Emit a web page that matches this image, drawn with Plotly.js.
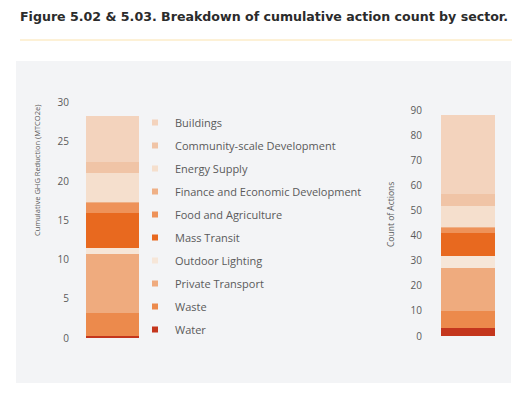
<!DOCTYPE html>
<html>
<head>
<meta charset="utf-8">
<script src="https://cdn.plot.ly/plotly-3.0.1.min.js"></script>
<style>html,body{margin:0;padding:0;background:#fff;}#chart{width:526px;height:399px;}</style>
</head>
<body>
<div id="chart"></div>
<script>
// Sectors (legend order, top to bottom)
const sectors = ["Buildings", "Community-scale Development", "Energy Supply",
  "Finance and Economic Development", "Food and Agriculture", "Mass Transit",
  "Outdoor Lighting", "Private Transport", "Waste", "Water"];
const colors = ["#f3d3bd", "#f0c4a6", "#f5dfcd", "#efb086", "#ee9259", "#e8691f",
  "#f6e6d8", "#efab7e", "#ec8a4c", "#c4361d"];
// Figure 5.02: cumulative GHG reduction (MTCO2e) by sector
const ghgReduction = [5.9, 1.3, 3.8, 0.1, 1.2, 4.5, 0.8, 7.5, 2.9, 0.3];
// Figure 5.03: count of actions by sector
const actionCount = [31.5, 4.6, 8.2, 0.5, 2.1, 9, 4.8, 17.2, 7, 3];
const leftTicks = [0, 5, 10, 15, 20, 25, 30];
const rightTicks = [0, 10, 20, 30, 40, 50, 60, 70, 80, 90];

const W = 526, H = 399;
const px = v => v / W, py = v => 1 - v / H;
const font = "Open Sans, Arial, sans-serif";

const traces = [];
// stack from bottom: reverse of legend order
for (let i = sectors.length - 1; i >= 0; i--) {
  traces.push({type: "bar", x: ["GHG"], y: [ghgReduction[i]], name: sectors[i],
    marker: {color: colors[i], line: {width: 0}}, xaxis: "x", yaxis: "y",
    showlegend: false, hoverinfo: "name+y"});
  traces.push({type: "bar", x: ["Count"], y: [actionCount[i]], name: sectors[i],
    marker: {color: colors[i], line: {width: 0}}, xaxis: "x2", yaxis: "y2",
    showlegend: false, hoverinfo: "name+y"});
}
// legend entries (small square swatches)
sectors.forEach((s, i) => {
  traces.push({type: "scatter", mode: "markers", x: [null], y: [null], name: s,
    legendgroup: "g" + i, legendrank: i + 1, xaxis: "x", yaxis: "y",
    marker: {symbol: "square", size: 6, color: colors[i]}, showlegend: true});
});

const tickFont = {family: font, size: 10, color: "#5a5a5a"};
const layout = {
  width: W, height: H,
  margin: {l: 0, r: 0, t: 0, b: 0},
  paper_bgcolor: "#ffffff", plot_bgcolor: "rgba(0,0,0,0)",
  barmode: "stack", bargap: 0,
  showlegend: true,
  title: {text: "Figure 5.02 &amp; 5.03. Breakdown of cumulative action count by sector.",
    x: px(20), xanchor: "left", xref: "paper", y: py(17), yanchor: "middle", yref: "container",
    font: {family: "DejaVu Sans, sans-serif", size: 12.6, color: "#2b2b2b", weight: 700}},
  xaxis: {domain: [px(86), px(139)], showticklabels: false, showgrid: false,
    zeroline: false, showline: false, fixedrange: true},
  yaxis: {domain: [py(338), py(102.7)], range: [0, 30], tickvals: leftTicks,
    showgrid: false, zeroline: false, showline: false, ticks: "outside", ticklen: 14,
    tickcolor: "rgba(0,0,0,0)", tickfont: tickFont, anchor: "x"},
  xaxis2: {domain: [px(441), px(495)], showticklabels: false, showgrid: false,
    zeroline: false, showline: false, anchor: "y2"},
  yaxis2: {domain: [py(336), py(110)], range: [0, 90], tickvals: rightTicks,
    showgrid: false, zeroline: false, showline: false, ticks: "outside", ticklen: 16,
    tickcolor: "rgba(0,0,0,0)", tickfont: tickFont, anchor: "x2"},
  legend: {x: px(135), xanchor: "left", y: py(108), yanchor: "top",
    traceorder: "grouped", tracegroupgap: 4, bgcolor: "rgba(0,0,0,0)",
    font: {family: font, size: 11, color: "#5a5a5a"}, itemclick: false},
  annotations: [
    {text: "Cumulative GHG Reduction (MTCO2e)", textangle: -90, xref: "paper", yref: "paper",
      x: px(37), y: py(171), showarrow: false, xanchor: "center", yanchor: "middle",
      font: {family: font, size: 7.5, color: "#5a5a5a"}},
    {text: "Count of Actions", textangle: -90, xref: "paper", yref: "paper",
      x: px(390), y: py(215), showarrow: false, xanchor: "center", yanchor: "middle",
      font: {family: font, size: 8.5, color: "#5a5a5a"}}
  ],
  shapes: [
    {type: "rect", xref: "paper", yref: "paper", x0: px(16), x1: px(511), y0: py(383), y1: py(61),
      fillcolor: "#f3f4f6", line: {width: 0}, layer: "below"},
    {type: "line", xref: "paper", yref: "paper", x0: px(20), x1: px(512), y0: py(40), y1: py(40),
      line: {color: "#fbe3ae", width: 1}}
  ]
};
Plotly.newPlot("chart", traces, layout, {displayModeBar: false, staticPlot: true});
</script>
</body>
</html>
